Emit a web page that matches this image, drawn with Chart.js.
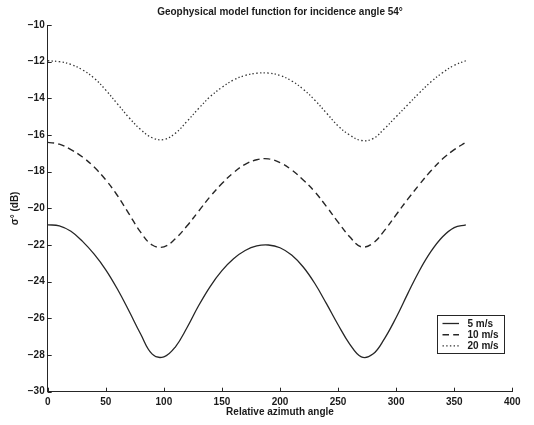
<!DOCTYPE html>
<html>
<head>
<meta charset="utf-8">
<script src="https://cdn.jsdelivr.net/npm/chart.js@4.4.1/dist/chart.umd.min.js"></script>
<style>
html,body{margin:0;padding:0;background:#fff}
canvas{display:block}
</style>
</head>
<body>
<canvas id="c" width="534" height="425"></canvas>
<script>
// ---- data ----
const angles = [0,10,20,30,40,50,60,70,80,90,100,110,120,130,140,150,160,170,180,
                190,200,210,220,230,240,250,260,270,280,290,300,310,320,330,340,350,360];
const seriesNames = ['5 m/s','10 m/s','20 m/s'];
const sigma5 = [-20.9,-20.95,-21.25,-21.8,-22.5,-23.35,-24.4,-25.6,-26.85,-27.95,-28.1,-27.55,-26.5,-25.3,-24.25,-23.4,-22.75,-22.3,-22.05,
                -22.0,-22.15,-22.55,-23.2,-24.1,-25.2,-26.35,-27.4,-28.1,-27.95,-27.1,-25.95,-24.65,-23.4,-22.35,-21.55,-21.05,-20.9];
const sigma10 = [-16.4,-16.5,-16.8,-17.2,-17.75,-18.45,-19.3,-20.3,-21.3,-22.0,-22.1,-21.65,-20.95,-20.15,-19.35,-18.65,-18.05,-17.6,-17.35,
                 -17.3,-17.5,-17.9,-18.45,-19.1,-19.9,-20.75,-21.55,-22.1,-21.9,-21.2,-20.35,-19.5,-18.7,-17.95,-17.3,-16.8,-16.4];
const sigma20 = [-11.95,-12.0,-12.15,-12.45,-12.9,-13.55,-14.3,-15.05,-15.7,-16.15,-16.25,-15.9,-15.25,-14.55,-13.9,-13.4,-13.0,-12.75,-12.63,
                 -12.62,-12.75,-13.05,-13.5,-14.1,-14.8,-15.5,-16.0,-16.3,-16.2,-15.65,-15.0,-14.35,-13.7,-13.1,-12.6,-12.2,-11.95];
const titleText = 'Geophysical model function for incidence angle 54°';
const xLabel = 'Relative azimuth angle';
const yLabel = 'σ° (dB)';

// ---- styling ----
const ink = '#262626';
const FONT = "'Liberation Sans', Arial, Helvetica, sans-serif";
Chart.defaults.font.family = FONT;
Chart.defaults.font.weight = 'bold';
Chart.defaults.font.size = 10;
Chart.defaults.color = '#1a1a1a';

function pts(ys){ return angles.map((a,i)=>({x:a, y:ys[i]})); }
const minus = v => String(v).replace('-', '\u2212');

const inwardTicks = {
  id: 'inwardTicks',
  afterDatasetsDraw(chart){
    const {ctx, chartArea:{left,bottom}, scales:{x,y}} = chart;
    ctx.save();
    ctx.strokeStyle = ink; ctx.lineWidth = 1;
    ctx.beginPath();
    x.ticks.forEach(t => { const px = Math.round(x.getPixelForValue(t.value)) + 0.5; ctx.moveTo(px, bottom); ctx.lineTo(px, bottom - 4); });
    y.ticks.forEach(t => { const py = Math.round(y.getPixelForValue(t.value)) + 0.5; ctx.moveTo(left, py); ctx.lineTo(left + 4, py); });
    ctx.stroke();
    ctx.restore();
  }
};

const titlePlugin = {
  id: 'centeredTitle',
  afterDraw(chart){
    const {ctx, chartArea:{left,right}} = chart;
    ctx.save();
    ctx.font = 'bold 10px ' + FONT;
    ctx.fillStyle = '#1a1a1a';
    ctx.textAlign = 'center';
    ctx.textBaseline = 'middle';
    ctx.fillText(titleText, (left + right) / 2, 12);
    ctx.restore();
  }
};

const boxLegend = {
  id: 'boxLegend',
  afterDraw(chart){
    const {ctx, chartArea:{right,bottom}} = chart;
    const bx = Math.round(right - 75.5) + 0.5, by = Math.round(bottom - 76.5) + 0.5;
    const w = 67, h = 38;
    ctx.save();
    ctx.fillStyle = '#fff';
    ctx.fillRect(bx, by, w, h);
    ctx.strokeStyle = ink; ctx.lineWidth = 1;
    ctx.strokeRect(bx, by, w, h);
    ctx.font = 'bold 10px ' + FONT;
    ctx.textBaseline = 'middle';
    ctx.textAlign = 'left';
    chart.data.datasets.forEach((ds, i) => {
      const cy = by + 8 + i * 11.2;
      ctx.strokeStyle = ds.borderColor;
      ctx.lineWidth = ds.borderWidth;
      ctx.setLineDash(ds.borderDash || []);
      ctx.beginPath(); ctx.moveTo(bx + 5, cy); ctx.lineTo(bx + 21.5, cy); ctx.stroke();
      ctx.setLineDash([]);
      ctx.fillStyle = '#1a1a1a';
      ctx.fillText(ds.label, bx + 30, cy + 0.5);
    });
    ctx.restore();
  }
};

new Chart(document.getElementById('c'), {
  type: 'line',
  data: {
    datasets: [
      {label: seriesNames[0], data: pts(sigma5),  borderColor: ink, borderWidth: 1.3, borderDash: []},
      {label: seriesNames[1], data: pts(sigma10), borderColor: ink, borderWidth: 1.4, borderDash: [6.5,4.2]},
      {label: seriesNames[2], data: pts(sigma20), borderColor: '#333', borderWidth: 1.3, borderDash: [1.4,2.3]}
    ]
  },
  options: {
    responsive: false,
    animation: false,
    events: [],
    elements: { point: {radius: 0}, line: {tension: 0.4, cubicInterpolationMode: 'default', fill: false} },
    layout: { padding: {top: 25, right: 21.7, bottom: 0, left: 0} },
    plugins: { legend: {display: false}, title: {display: false}, tooltip: {enabled: false} },
    scales: {
      x: {
        type: 'linear', min: 0, max: 400,
        ticks: {stepSize: 50, padding: 5, maxRotation: 0, autoSkip: false, color: '#1a1a1a'},
        grid: {display: true, drawOnChartArea: false, drawTicks: false},
        border: {display: true, color: ink, width: 1},
        title: {display: true, text: xLabel, font: {size: 10, weight: 'bold'}, padding: {top: 0, bottom: 6.5}, color: '#1a1a1a'},
        afterFit(s){ s.height = 33.3; }
      },
      y: {
        type: 'linear', min: -30, max: -10,
        ticks: {stepSize: 2, padding: 3, autoSkip: false, callback: v => minus(v), color: '#1a1a1a'},
        grid: {display: true, drawOnChartArea: false, drawTicks: false},
        border: {display: true, color: ink, width: 1},
        title: {display: true, text: yLabel, font: {size: 10, weight: 'bold'}, padding: {top: 9.5, bottom: 0}, color: '#1a1a1a'},
        afterFit(s){ s.width = 47.7; }
      }
    }
  },
  plugins: [inwardTicks, titlePlugin, boxLegend]
});
</script>
</body>
</html>
